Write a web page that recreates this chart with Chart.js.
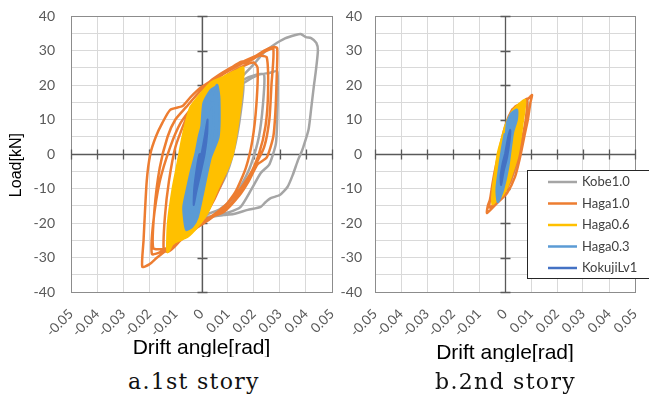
<!DOCTYPE html>
<html>
<head>
<meta charset="utf-8">
<script src="https://cdn.jsdelivr.net/npm/chart.js@4/dist/chart.umd.min.js"></script>
<style>
body { margin: 0; background: #fff; width: 649px; height: 400px; overflow: hidden; position: relative; }
#story1 { position: absolute; left: 0; top: 0; }
#story2 { position: absolute; left: 330px; top: 0; }
.cap { position: absolute; font-family: "DejaVu Serif"; font-size: 22px; line-height: 22px; letter-spacing: 1.3px; color: #111; white-space: nowrap; }
</style>
</head>
<body>
<canvas id="story1" width="345" height="357"></canvas>
<canvas id="story2" width="319" height="362"></canvas>
<div class="cap" style="left:128px;top:371px">a.1st story</div>
<div class="cap" style="left:435px;top:371px">b.2nd story</div>
<script>
// series names / colours (Excel order: first drawn at the bottom)
const seriesNames = ['Kobe1.0', 'Haga1.0', 'Haga0.6', 'Haga0.3', 'KokujiLv1']
const seriesColors = ['#A5A5A5', '#ED7D31', '#FFC000', '#5B9BD5', '#4472C4']

const xTicks = [-0.05, -0.04, -0.03, -0.02, -0.01, 0, 0.01, 0.02, 0.03, 0.04, 0.05]
const xTickLabels = ['-0.05', '-0.04', '-0.03', '-0.02', '-0.01', '0', '0.01', '0.02', '0.03', '0.04', '0.05']
const yTicks = [-40, -30, -20, -10, 0, 10, 20, 30, 40]
const yMinorGrid = [-35, -25, -15, -5, 5, 15, 25, 35]

// 1st story  [drift angle rad, load kN]
const kobe1st = [
	[0,0],[0.004,10],[0.008,16],[0.012,19],[0.016,20.5],[0.015,12],[0.013,3],[0.01,-5],[0.006,-11],[0.002,-15],
	[-0.003,-17],[-0.006,-18],[-0.005,-10],[-0.003,-2],[0,5],[0.005,13],[0.01,18],[0.016,21.5],[0.021,23],[0.024,23],
	[0.0235,14],[0.022,5],[0.019,-3],[0.016,-8],[0.012,-13],[0.007,-16],[0.002,-17.5],[-0.004,-19],[-0.003,-9],[0,0],
	[0.005,10],[0.01,16.5],[0.016,20.5],[0.022,23],[0.026,23.5],[0.029,24],[0.0292,18],[0.029,10],[0.0285,3],[0.026,-3],
	[0.0227,-5.5],[0.019,-10.4],[0.015,-15.3],[0.01,-17],[0.004,-18],[-0.002,-18.5],[-0.005,-17],[-0.004,-8],[-0.001,2],
	[0.004,11],[0.009,17],[0.015,22],[0.02,26],[0.024,29.5],[0.0277,31.6],[0.032,33.5],[0.036,34.5],[0.038,34.8],
	[0.04,33.9],[0.042,33.6],[0.044,32.2],[0.0446,30],[0.0438,24],[0.043,19.4],[0.042,13],[0.041,7],[0.039,2],[0.038,0],
	[0.037,-1.7],[0.035,-6],[0.033,-9.5],[0.03,-11.9],[0.0265,-12.8],[0.0245,-14],[0.0227,-15.3],[0.0177,-16.2],
	[0.0123,-17.4],[0.0085,-17.7],[0.004,-18.2]
]
const haga10_1st = [
	[0,0],[0.004,12],[0.008,18],[0.012,21],[0.014,22],[0.0135,12],[0.012,2],[0.009,-6],[0.005,-13],[0.001,-18],
	[-0.004,-22],[-0.008,-25],[-0.009,-24],[-0.0085,-14],[-0.007,-4],[-0.004,6],[0,13],[0.005,19],[0.01,23],[0.016,25.5],
	[0.02,26.5],[0.0215,25],[0.021,14],[0.0195,4],[0.017,-4],[0.013,-11],[0.008,-16],[0.003,-19],[-0.002,-21.5],
	[-0.008,-25],[-0.0108,-27.2],[-0.013,-28.4],[-0.0145,-27.5],[-0.014,-18],[-0.0125,-8],[-0.01,2],[-0.006,10],
	[-0.002,15],[0.003,20],[0.009,23.5],[0.015,26],[0.019,27.2],[0.022,28.5],[0.025,28],[0.0255,18],[0.0245,8],
	[0.022,0],[0.018,-7],[0.013,-13],[0.008,-16.5],[0.003,-18.8],[-0.003,-21.5],[-0.009,-25],[-0.014,-27.5],
	[-0.0185,-27.2],[-0.018,-16],[-0.016,-4],[-0.013,5],[-0.01,10],[-0.006,13.5],[-0.002,17],[0.004,21.5],[0.01,24.5],
	[0.016,26.8],[0.021,28.5],[0.024,30],[0.0277,31],[0.029,30.7],[0.0288,22],[0.0283,12],[0.0275,5],[0.025,-1],
	[0.0215,-3],[0.018,-8],[0.0145,-12],[0.0085,-16.8],[0.0023,-18.6],[0,-20],[-0.006,-23.5],[-0.012,-27],[-0.017,-30],
	[-0.02,-32],[-0.0227,-32.7],[-0.0222,-25],[-0.021,-8],[-0.0196,0],[-0.0175,5],[-0.015,9],[-0.012,12.8],
	[-0.0073,13.9],[-0.0042,16.5],[0,19.4],[0.0073,22.9],[0.015,26.7],[0.019,27.2],[0.024,29.6],[0.0275,30.5],
	[0.0268,20],[0.026,10],[0.024,2],[0.02,-4],[0.015,-10],[0.009,-15],[0.003,-18.5],[-0.003,-21],[-0.01,-25.5],
	[-0.016,-28.5],[-0.019,-29],[-0.0185,-20],[-0.016,-8],[-0.012,2],[-0.008,9],[-0.003,14],[0,16]
]
const haga06_1st = [
	[0,0],[0.003,10],[0.006,16],[0.009,19],[0.0095,12],[0.008,3],[0.005,-6],[0.002,-13],[-0.002,-18],[-0.006,-21],
	[-0.0075,-20],[-0.007,-10],[-0.005,-1],[-0.002,8],[0.002,14],[0.007,19.5],[0.011,22],[0.013,22.5],[0.0125,14],
	[0.011,4],[0.008,-4],[0.004,-12],[0,-18],[-0.004,-21.5],[-0.009,-24.5],[-0.011,-26],[-0.0105,-16],[-0.0085,-5],
	[-0.0065,4],[-0.003,12],[0.001,17],[0.006,21],[0.0095,22.8],[0.0138,24.3],[0.016,25],[0.0155,18],[0.0138,8],
	[0.012,0],[0.0095,-5],[0.006,-10.4],[0.0023,-17],[-0.0015,-21],[-0.0054,-24],[-0.0108,-25.8],[-0.013,-28.4],
	[-0.0128,-20],[-0.011,-10],[-0.0092,-3],[-0.0075,4],[-0.006,9],[-0.0042,13.6],[0,17.7],[0.0035,20.6],
	[0.0085,22.3],[0.0125,23.5],[0.0135,20],[0.0125,10],[0.0105,1],[0.007,-7],[0.003,-14],[-0.002,-19],[-0.007,-23],
	[-0.011,-25],[-0.01,-15],[-0.007,-4],[-0.004,5],[0,11]
]
const haga03_1st = [
	[0,0],[0.0015,8],[0.003,13],[0.0045,15],[0.0045,8],[0.003,1],[0.001,-6],[-0.0015,-13],[-0.004,-17],[-0.005,-15],
	[-0.004,-7],[-0.002,0],[0,7],[0.002,13.5],[0.0045,18],[0.006,20],[0.0068,16],[0.0065,5],[0.0035,-1],[0.0008,-10.4],
	[-0.0015,-18.3],[-0.0035,-21],[-0.0058,-22],[-0.0065,-19.5],[-0.0069,-15.3],[-0.0055,-10],[-0.0042,-5.5],
	[-0.0023,0],[-0.001,5],[0,8],[0.0008,14.8],[0.0035,18.5],[0.0055,19.5]
]
const kokuji_1st = [
	[0,0],[0.0012,5],[0.0023,10],[0.0022,6],[0.0012,0],[-0.0005,-6],[-0.002,-11],[-0.003,-14.8],[-0.0028,-10],
	[-0.0018,-4],[-0.0008,0],[0,0]
]

// 2nd story
const kobe2nd = [
	[0,0],[0.003,8],[0.006,13],[0.0085,15.5],[0.0082,10],[0.0068,4],[0.0058,0],[0.0045,-3],[0.002,-8],[-0.001,-11.5],
	[-0.0035,-13.5],[-0.004,-11],[-0.003,-5],[-0.0015,0],[0,4]
]
const haga10_2nd = [
	[0,0],[0.002,8],[0.0045,13],[0.0075,15.5],[0.0085,16],[0.008,10],[0.0062,3],[0.0045,-2],[0.002,-8],[-0.001,-12],
	[-0.004,-14.5],[-0.006,-15.5],[-0.0055,-12],[-0.0042,-6],[-0.0025,0],[-0.0005,6],[0.0015,11],[0.004,13.8],
	[0.0069,14.8],[0.0096,16.5],[0.0104,17.1],[0.0098,15],[0.0088,10],[0.0077,6.1],[0.0058,-0.9],[0.0038,-6.7],
	[0.0008,-11.3],[-0.003,-14.2],[-0.0069,-17.1],[-0.0066,-15],[-0.0058,-13.3],[-0.0048,-9],[-0.0038,-5.5],
	[-0.0019,2],[0,7.8],[0.0027,12.8],[0.005,14],[0.0075,15]
]
const haga06_2nd = [
	[0,0],[0.0015,7],[0.003,11],[0.005,13],[0.006,12],[0.005,5],[0.0035,-1],[0.001,-7],[-0.0015,-11],[-0.004,-13],
	[-0.0042,-10],[-0.0032,-4],[-0.002,1],[0,7.8],[0.0027,12.2],[0.0055,14.5],[0.0077,15.7],[0.0075,13],[0.0069,9.9],
	[0.0058,4],[0.0046,-0.9],[0.0025,-6],[0.0008,-9.6],[-0.001,-12],[-0.003,-13.3],[-0.0048,-14.5],[-0.0046,-9.6],
	[-0.0037,-5],[-0.0027,0.3],[-0.001,5],[0,7.8]
]
const haga03_2nd = [
	[0,0],[0.0008,9],[0.0025,11.8],[0.0046,12.8],[0.0045,10],[0.003,6.1],[0.0012,-3.8],[-0.0008,-10.4],[-0.0027,-13.9],
	[-0.0032,-11],[-0.003,-8.4],[-0.0012,1.2],[0,6]
]
const kokuji_2nd = [
	[0,0],[0.0012,4.9],[0.002,7],[0.0018,4],[0.0008,-1],[-0.0005,-5],[-0.0015,-9],[-0.0017,-6.5],[-0.001,-3],[0,0]
]

const filled = [false, false, true, true, true]

Chart.defaults.font.family = 'Lato'

// zero axes crossing in the middle of the plot, with cross ticks, plus plot border
const crossAxes = {
	id: 'crossAxes',
	beforeDatasetsDraw(chart) {
		const { ctx, chartArea: a, scales: { x, y } } = chart
		const x0 = Math.round(x.getPixelForValue(0)) + 0.5
		const y0 = Math.round(y.getPixelForValue(0)) + 0.5
		ctx.save()
		ctx.strokeStyle = '#8c8c8c'
		ctx.lineWidth = 1
		ctx.strokeRect(Math.round(a.left) + 0.5, Math.round(a.top) + 0.5, Math.round(a.width), Math.round(a.height))
		ctx.strokeStyle = '#595959'
		ctx.lineWidth = 1.3
		ctx.beginPath()
		ctx.moveTo(a.left, y0)
		ctx.lineTo(a.right, y0)
		ctx.moveTo(x0, a.top)
		ctx.lineTo(x0, a.bottom)
		xTicks.forEach((v) => {
			const px = Math.round(x.getPixelForValue(v)) + 0.5
			ctx.moveTo(px, y0 - 5)
			ctx.lineTo(px, y0 + 5)
		})
		yTicks.forEach((v) => {
			const py = Math.round(y.getPixelForValue(v)) + 0.5
			ctx.moveTo(x0 - 5, py)
			ctx.lineTo(x0 + 5, py)
		})
		ctx.stroke()
		ctx.restore()
	},
}

// Excel-like boxed legend sitting inside the plot
const boxLegend = {
	id: 'boxLegend',
	afterDatasetsDraw(chart, args, opts) {
		if (!opts.show) return
		const ctx = chart.ctx
		ctx.save()
		ctx.fillStyle = '#fff'
		ctx.fillRect(opts.x, opts.y, opts.w, opts.h)
		ctx.strokeStyle = '#262626'
		ctx.lineWidth = 1
		ctx.strokeRect(opts.x + 0.5, opts.y + 0.5, opts.w, opts.h)
		ctx.font = '13px Lato'
		ctx.textBaseline = 'middle'
		chart.data.datasets.forEach((ds, i) => {
			const yy = opts.y + 12 + i * 21.5
			ctx.strokeStyle = ds.borderColor
			ctx.lineWidth = 2.5
			ctx.beginPath()
			ctx.moveTo(opts.x + 21, yy)
			ctx.lineTo(opts.x + 50, yy)
			ctx.stroke()
			ctx.fillStyle = '#404040'
			ctx.fillText(ds.label, opts.x + 55, yy)
		})
		ctx.restore()
	},
}

function noPadding(s) {
	s.paddingLeft = 0
	s.paddingRight = 0
	s.paddingTop = 0
	s.paddingBottom = 0
}

function buildChart(canvasID, series, cfg) {
	const datasets = series.map((points, i) => ({
		label: seriesNames[i],
		data: points.map((p) => ({ x: p[0], y: p[1] })),
		borderColor: seriesColors[i],
		backgroundColor: seriesColors[i],
		borderWidth: i === 4 ? 2 : 2.5,
		pointRadius: 0,
		tension: 0.2,
		fill: filled[i] ? 'shape' : false,
		order: 5 - i,
	}))

	return new Chart(document.getElementById(canvasID), {
		type: 'line',
		data: { datasets },
		plugins: [crossAxes, boxLegend],
		options: {
			responsive: false,
			animation: false,
			events: [],
			layout: { padding: { top: 16, right: cfg.padRight, bottom: 0, left: 0 } },
			plugins: {
				legend: { display: false },
				tooltip: { enabled: false },
				boxLegend: cfg.legend,
			},
			scales: {
				x: {
					type: 'linear',
					min: -0.05,
					max: 0.05,
					afterBuildTicks: (s) => { s.ticks = xTicks.map((v) => ({ value: v })) },
					afterFit: (s) => { s.height = cfg.xHeight; noPadding(s) },
					ticks: {
						autoSkip: false,
						minRotation: 45,
						maxRotation: 45,
						padding: 14,
						color: '#595959',
						font: { size: 13.5 },
						callback: (v, i) => xTickLabels[i],
					},
					grid: { color: '#d9d9d9', drawTicks: false },
					border: { display: false },
					title: {
						display: true,
						text: 'Drift angle[rad]',
						color: '#000',
						font: { family: 'Liberation Sans', size: 21, lineHeight: 0.8 },
						padding: 0,
					},
				},
				y: {
					type: 'linear',
					min: -40,
					max: 40,
					afterBuildTicks: (s) => {
						s.ticks = yTicks.concat(yMinorGrid).sort((a, b) => a - b).map((v) => ({ value: v }))
					},
					afterFit: (s) => { s.width = cfg.yWidth; noPadding(s) },
					ticks: {
						autoSkip: false,
						padding: cfg.yPad,
						color: '#595959',
						font: { size: 14 },
						callback: (v) => (yTicks.includes(v) ? String(v) : ''),
					},
					grid: { color: '#d9d9d9', drawTicks: false },
					border: { display: false },
					title: cfg.yTitle,
				},
			},
		},
	})
}

buildChart('story1', [kobe1st, haga10_1st, haga06_1st, haga03_1st, kokuji_1st], {
	padRight: 13,
	xHeight: 65,
	yWidth: 71,
	yPad: 16,
	legend: { show: false },
	yTitle: {
		display: true,
		text: 'Load[kN]     ',
		color: '#000',
		font: { family: 'Liberation Sans', size: 16 },
		padding: { top: 7, bottom: 0 },
	},
})

buildChart('story2', [kobe2nd, haga10_2nd, haga06_2nd, haga03_2nd, kokuji_2nd], {
	padRight: 14,
	xHeight: 70,
	yWidth: 45,
	yPad: 13,
	legend: { show: true, x: 197, y: 170, w: 130, h: 108 },
	yTitle: { display: false },
})
</script>
</body>
</html>
